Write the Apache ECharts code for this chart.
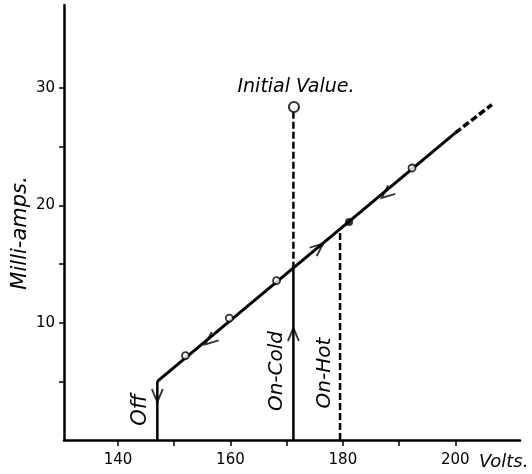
<!DOCTYPE html>
<html>
<head>
<meta charset="utf-8">
<script src="https://cdn.jsdelivr.net/npm/echarts@6/dist/echarts.min.js"></script>
<style>
  html, body { margin: 0; padding: 0; background: #fff; }
  #chart { width: 532px; height: 474px; }
</style>
</head>
<body>
<div id="chart"></div>
<script>
// Plate current (mA) against plate voltage (V): hysteresis of the valve characteristic.
const voltTicks = [140, 150, 160, 170, 180, 190, 200];
const voltLabels = [140, 160, 180, 200];
const ampTicks = [5, 10, 15, 20, 25, 30];
const ampLabels = [10, 20, 30];

// Characteristic line: solid part, then dashed extrapolation
const characteristicSolid = [[147, 5.0], [200, 26.2]];
const characteristicDashed = [[200, 26.2], [206.5, 28.6]];

// Measured readings on the characteristic
const readingsOpen = [[152.0, 7.2], [159.8, 10.4], [168.2, 13.6], [192.3, 23.2]];
const readingFilled = [[181.1, 18.6]];
const initialValue = [[171.3, 28.4]];

// Switching verticals
const offLine = [[147, 0], [147, 5.0]];
const onColdSolid = [[171.2, 0], [171.2, 14.6]];
const onColdDashed = [[171.2, 14.6], [171.2, 28.0]];
const onHotDashed = [[179.5, 0], [179.5, 17.9]];

// Direction arrows: [volts, mA, direction]
const arrowMarks = [
  [156.4, 8.5, 'down-left'],
  [187.8, 21.0, 'down-left'],
  [175.6, 16.4, 'up-right'],
  [147, 3.8, 'down'],
  [171.2, 9.0, 'up']
];

const chart = echarts.init(document.getElementById('chart'));

const GRID = { left: 64, right: 12, top: 5, bottom: 34 };
const X_MIN = 130.4, X_MAX = 211.5, Y_MIN = 0, Y_MAX = 37.1;
const pxPerV = (532 - GRID.left - GRID.right) / (X_MAX - X_MIN);
const pxPerA = (474 - GRID.top - GRID.bottom) / (Y_MAX - Y_MIN);
const slope = (characteristicSolid[1][1] - characteristicSolid[0][1]) / (characteristicSolid[1][0] - characteristicSolid[0][0]);
const lineAngle = Math.atan(slope * pxPerA / pxPerV) * 180 / Math.PI;
const rotations = { 'down-left': lineAngle + 180, 'up-right': lineAngle, 'down': -90, 'up': 90 };

// Open chevron arrowhead, tip pointing along +x
const ARROW = 'path://M0,0 L12,5 L0,10';
const ink = '#000';
const LETTERING = "'DejaVu Sans', sans-serif";

function segment(data, dashed, width) {
  return {
    type: 'line', data: data, symbol: 'none', silent: true,
    lineStyle: { color: ink, width: width || 3, type: dashed ? [7, 3] : 'solid' },
    z: 2
  };
}

function note(text, x, y, size, opts) {
  return Object.assign({
    type: 'text', x: x, y: y,
    style: {
      text: text, fill: ink, fontFamily: LETTERING, fontStyle: 'italic',
      fontSize: size, align: (opts && opts.align) || 'center', verticalAlign: 'middle'
    }
  }, opts && opts.rotate ? { rotation: Math.PI / 2 } : {});
}

chart.setOption({
  animation: false,
  backgroundColor: '#fff',
  grid: GRID,
  xAxis: {
    type: 'value', min: X_MIN, max: X_MAX,
    splitLine: { show: false },
    axisLine: { lineStyle: { color: ink, width: 2.5 } },
    axisTick: { customValues: voltTicks, length: 6, lineStyle: { color: ink, width: 1.5 } },
    axisLabel: { customValues: voltLabels, color: ink, fontFamily: LETTERING, fontSize: 15, margin: 13 }
  },
  yAxis: {
    type: 'value', min: Y_MIN, max: Y_MAX,
    splitLine: { show: false },
    axisLine: { lineStyle: { color: ink, width: 2.5 } },
    axisTick: { customValues: ampTicks, length: 5, lineStyle: { color: ink, width: 1.5 } },
    axisLabel: { customValues: ampLabels, color: ink, fontFamily: LETTERING, fontSize: 15, margin: 9 }
  },
  series: [
    segment(characteristicSolid, false, 3),
    segment(characteristicDashed, true, 3.5),
    segment(offLine, false, 2.5),
    segment(onColdSolid, false, 2.5),
    segment(onColdDashed, true, 2.5),
    segment(onHotDashed, true, 2.5),
    {
      type: 'scatter', data: readingsOpen, symbol: 'circle', symbolSize: 7, z: 4,
      itemStyle: { color: '#fff', borderColor: ink, borderWidth: 1.8 }
    },
    {
      type: 'scatter', data: readingFilled, symbol: 'circle', symbolSize: 8, z: 4,
      itemStyle: { color: ink }
    },
    {
      type: 'scatter', data: initialValue, symbol: 'circle', symbolSize: 10, z: 4,
      itemStyle: { color: '#fff', borderColor: ink, borderWidth: 2.2 }
    },
    {
      type: 'scatter', z: 5, symbol: ARROW, symbolSize: [13, 11],
      itemStyle: { color: 'none', borderColor: ink, borderWidth: 2 },
      data: arrowMarks.map(a => ({ value: [a[0], a[1]], symbolRotate: rotations[a[2]] }))
    }
  ],
  graphic: [
    note('Initial Value.', 296, 87, 19),
    note('Milli-amps.', 21, 233, 21, { rotate: true }),
    note('Off', 141, 410, 21, { rotate: true }),
    note('On-Cold', 277, 371, 20, { rotate: true }),
    note('On-Hot', 325, 373, 20, { rotate: true }),
    note('Volts.', 479, 462, 18, { align: 'left' })
  ]
});
</script>
</body>
</html>
